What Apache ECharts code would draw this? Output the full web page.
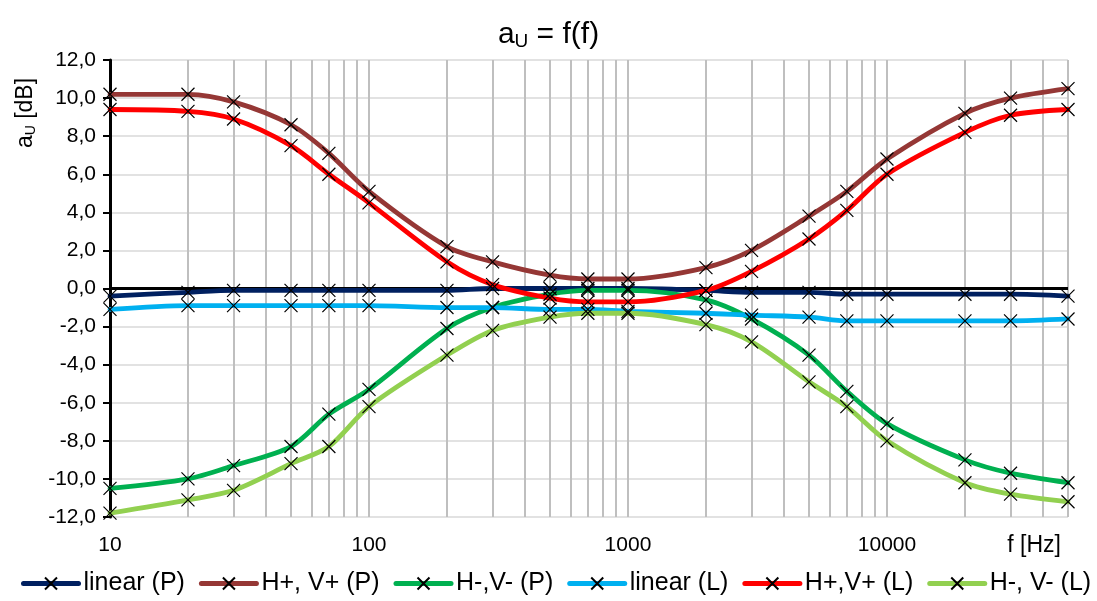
<!DOCTYPE html>
<html>
<head>
<meta charset="utf-8">
<script src="https://cdn.jsdelivr.net/npm/echarts@6/dist/echarts.min.js"></script>
<style>
html,body{margin:0;padding:0;background:#fff;}
#chart{width:1097px;height:601px;}
</style>
</head>
<body>
<div id="chart"></div>
<script>
// ---- data ----
var freqs = [10, 20, 30, 50, 70, 100, 200, 300, 500, 700, 1000, 2000, 3000, 5000, 7000, 10000, 20000, 30000, 50000];
var linearP  = [-0.4, -0.2, -0.1, -0.1, -0.1, -0.1, -0.1, 0.0, 0.0, 0.0, 0.0, -0.1, -0.2, -0.2, -0.3, -0.3, -0.3, -0.3, -0.4];
var hvPlusP  = [10.2, 10.2, 9.8, 8.6, 7.1, 5.1, 2.2, 1.4, 0.7, 0.5, 0.5, 1.1, 2.0, 3.8, 5.1, 6.8, 9.2, 10.0, 10.5];
var hvMinusP = [-10.5, -10.0, -9.3, -8.3, -6.6, -5.3, -2.1, -1.0, -0.3, -0.1, -0.1, -0.6, -1.6, -3.5, -5.4, -7.1, -9.0, -9.7, -10.2];
var linearL  = [-1.1, -0.9, -0.9, -0.9, -0.9, -0.9, -1.0, -1.0, -1.1, -1.1, -1.2, -1.3, -1.4, -1.5, -1.7, -1.7, -1.7, -1.7, -1.6];
var hvPlusL  = [9.4, 9.3, 8.9, 7.5, 6.0, 4.5, 1.4, 0.2, -0.5, -0.7, -0.7, -0.1, 0.9, 2.6, 4.1, 6.0, 8.2, 9.1, 9.4];
var hvMinusL = [-11.8, -11.1, -10.6, -9.2, -8.3, -6.2, -3.5, -2.2, -1.5, -1.3, -1.3, -1.9, -2.8, -4.9, -6.2, -8.0, -10.2, -10.8, -11.2];
var seriesNames = ['linear (P)', 'H+, V+ (P)', 'H-,V- (P)', 'linear (L)', 'H+,V+ (L)', 'H-, V- (L)'];
var xTickLabels = ['10', '100', '1000', '10000'];
var xGridValues = [20, 30, 40, 50, 60, 70, 80, 90, 100, 200, 300, 400, 500, 600, 700, 800, 900, 1000,
                   2000, 3000, 4000, 5000, 6000, 7000, 8000, 9000, 10000, 20000, 30000, 40000, 50000];

var colors = ['#002060', '#953735', '#00B050', '#00B0F0', '#FF0000', '#92D050'];
var allValues = [linearP, hvPlusP, hvMinusP, linearL, hvPlusL, hvMinusL];
var FONT = '"Liberation Sans", Arial, sans-serif';
var XMARK = 'path://M0,0L10,10M10,0L0,10';

function pairs(vals) { return freqs.map(function (f, i) { return [f, vals[i]]; }); }

var series = seriesNames.map(function (name, i) {
  return {
    name: name,
    type: 'line',
    data: pairs(allValues[i]),
    smooth: 0.3,
    symbol: XMARK,
    symbolSize: 13,
    showAllSymbol: true,
    z: 3,
    lineStyle: { color: colors[i], width: 4.8, cap: 'round' },
    itemStyle: { color: colors[i], borderColor: '#000', borderWidth: 1.2 },
    emphasis: { disabled: true }
  };
});

// gridlines / zero line drawn through the axes' own scales
series.push({
  name: '_grid',
  type: 'line',
  data: [],
  silent: true,
  z: 1,
  markLine: {
    silent: true,
    symbol: ['none', 'none'],
    z: 1,
    label: { show: false },
    animation: false,
    lineStyle: { color: '#bfbfbf', width: 2, type: 'solid' },
    data: xGridValues.map(function (v) { return { xAxis: v }; }).concat([
      { yAxis: 0, lineStyle: { color: '#000', width: 3, type: 'solid' } }
    ])
  }
});

var chart = echarts.init(document.getElementById('chart'), null, { renderer: 'canvas' });
chart.setOption({
  animation: false,
  backgroundColor: '#fff',
  textStyle: { fontFamily: FONT },
  title: {
    text: '{a|a}{s|U}{a| = f(f)}',
    left: 'center',
    top: 14,
    textStyle: {
      fontWeight: 'normal',
      rich: {
        a: { fontSize: 30, fontFamily: FONT, fontWeight: 'normal', color: '#000', lineHeight: 32 },
        s: { fontSize: 19, fontFamily: FONT, fontWeight: 'normal', color: '#000', lineHeight: 15, verticalAlign: 'bottom' }
      }
    }
  },
  grid: { left: 110, top: 60, width: 958, height: 457, containLabel: false },
  xAxis: {
    type: 'log',
    logBase: 10,
    min: 10,
    max: 50000,
    axisLine: { show: false },
    axisTick: { show: false },
    splitLine: { show: false },
    minorTick: { show: false },
    minorSplitLine: { show: false },
    axisLabel: {
      color: '#000',
      fontSize: 21,
      fontFamily: FONT,
      margin: 18,
      showMaxLabel: false,
      formatter: function (v) {
        var s = String(Math.round(v));
        return xTickLabels.indexOf(s) >= 0 ? s : '';
      }
    }
  },
  yAxis: {
    type: 'value',
    min: -12,
    max: 12,
    interval: 2,
    axisLine: { show: true, onZero: false, lineStyle: { color: '#000', width: 3 } },
    axisTick: { show: true, inside: false, length: 7, lineStyle: { color: '#000', width: 2 } },
    splitLine: { show: true, lineStyle: { color: '#d9d9d9', width: 1.5 } },
    axisLabel: {
      color: '#000',
      fontSize: 21,
      fontFamily: FONT,
      margin: 14,
      formatter: function (v) { return v.toFixed(1).replace('.', ','); }
    }
  },
  legend: {
    data: seriesNames,
    left: 21,
    top: 571,
    width: 1076,
    padding: 0,
    itemWidth: 55,
    itemHeight: 15,
    itemGap: 14,
    lineStyle: { width: 5, cap: 'round' },
    textStyle: { fontSize: 25, fontFamily: FONT, color: '#000' },
    selectedMode: false
  },
  graphic: [
    {
      type: 'text',
      x: 26,
      y: 113,
      rotation: Math.PI / 2,
      style: {
        text: '{a|a}{s|U}{a| [dB]}',
        align: 'center',
        verticalAlign: 'middle',
        rich: {
          a: { fontSize: 23, fontFamily: FONT, fill: '#000', lineHeight: 24 },
          s: { fontSize: 14, fontFamily: FONT, fill: '#000', lineHeight: 11, verticalAlign: 'bottom' }
        }
      }
    },
    {
      type: 'text',
      x: 1061,
      y: 546,
      style: {
        text: 'f [Hz]',
        align: 'right',
        verticalAlign: 'middle',
        fontSize: 23,
        fontFamily: FONT,
        fill: '#000'
      }
    }
  ],
  series: series
});
</script>
</body>
</html>
